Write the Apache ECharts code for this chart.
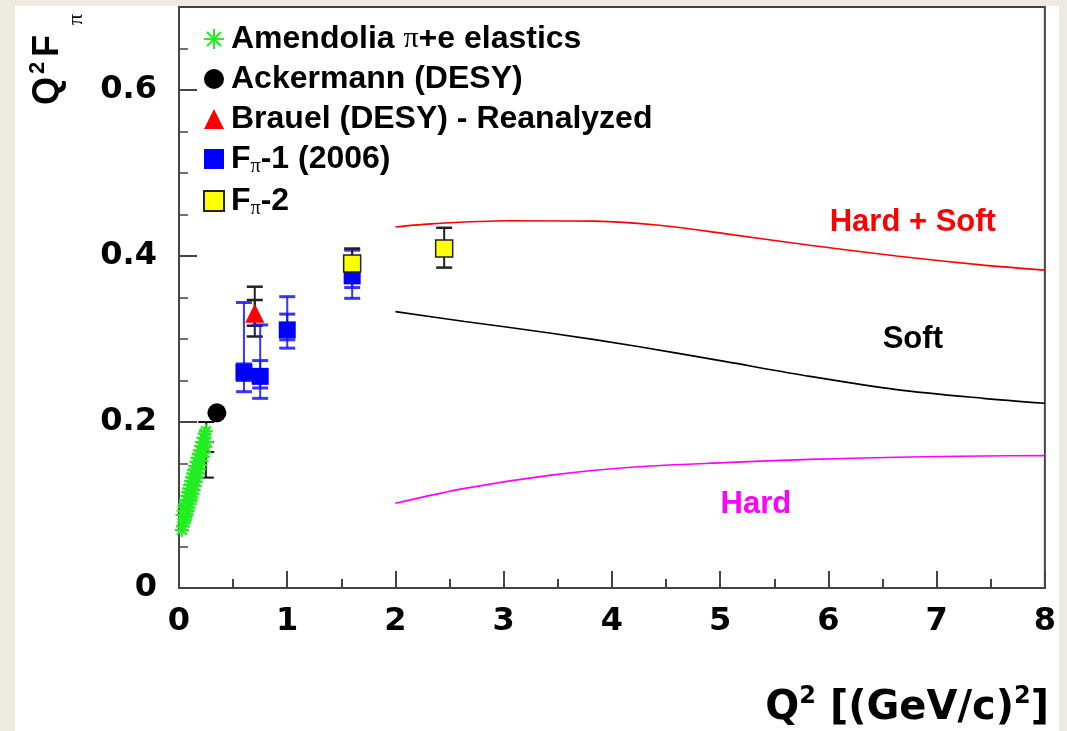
<!DOCTYPE html>
<html><head><meta charset="utf-8">
<script src="https://cdn.jsdelivr.net/npm/echarts@6/dist/echarts.min.js"></script>
<style>
html,body{margin:0;padding:0;background:#edeae1;width:1067px;height:731px;overflow:hidden}
#c{position:absolute;left:15px;top:6px;width:1044px;height:725px;background:#fff}
</style></head><body><div id="c"></div>
<script>
// ---- data ----
const amendoliaQ2 = [0.026,0.032,0.036,0.041,0.045,0.049,0.053,0.058,0.062,0.066,0.071,0.075,0.080,0.084,0.089,0.093,0.098,0.102,0.107,0.112,0.116,0.121,0.126,0.131,0.135,0.140,0.145,0.150,0.155,0.160,0.165,0.170,0.176,0.181,0.186,0.192,0.197,0.203,0.208,0.214,0.219,0.225,0.231,0.236,0.242,0.248,0.253];
const amendoliaVal = [0.070,0.088,0.074,0.093,0.079,0.098,0.082,0.101,0.086,0.106,0.089,0.111,0.093,0.115,0.097,0.120,0.101,0.124,0.106,0.129,0.109,0.133,0.114,0.138,0.118,0.142,0.123,0.147,0.128,0.152,0.133,0.157,0.138,0.161,0.143,0.166,0.148,0.171,0.153,0.176,0.158,0.181,0.163,0.186,0.170,0.189,0.176];
const amendoliaErrQ2 = [0.248, 0.252];
const amendoliaErrLo = [0.133, 0.164];
const amendoliaErrHi = [0.176, 0.200];

const ackermannQ2 = [0.35];
const ackermannVal = [0.211];

const brauelQ2 = [0.70];
const brauelVal = [0.331];
const brauelStatLo = [0.316];
const brauelStatHi = [0.347];
const brauelSysLo = [0.303];
const brauelSysHi = [0.363];

const fpi1Q2 = [0.60, 0.75, 1.00, 1.60];
const fpi1Val = [0.260, 0.255, 0.311, 0.376];
const fpi1StatLo = [0.250, 0.241, 0.299, 0.362];
const fpi1StatHi = [0.270, 0.274, 0.330, 0.390];
const fpi1SysLo = [0.2365, 0.2285, 0.289, 0.349];
const fpi1SysHi = [0.344, 0.317, 0.351, 0.407];

const fpi2Q2 = [1.60, 2.45];
const fpi2Val = [0.391, 0.409];
const fpi2Lo = [0.376, 0.386];
const fpi2Hi = [0.409, 0.434];

const hardSoftQ2 = [2.0, 2.36, 3.04, 3.84, 4.44, 5.04, 5.83, 6.63, 7.43, 8.0];
const hardSoftVal = [0.435, 0.439, 0.4425, 0.442, 0.437, 0.427, 0.413, 0.400, 0.389, 0.383];
const softQ2 = [2.0, 2.64, 3.44, 4.24, 5.04, 5.83, 6.63, 7.43, 8.0];
const softVal = [0.333, 0.321, 0.307, 0.291, 0.273, 0.255, 0.239, 0.2285, 0.2225];
const hardQ2 = [2.0, 2.64, 3.44, 4.24, 5.04, 5.83, 6.63, 7.43, 8.0];
const hardVal = [0.102, 0.120, 0.136, 0.146, 0.151, 0.155, 0.1575, 0.159, 0.1595];

const xTicks = [0, 1, 2, 3, 4, 5, 6, 7, 8];
const yTickLabels = ['0', '0.2', '0.4', '0.6'];

const legendNames = ['Amendolia π+e elastics', 'Ackermann (DESY)', 'Brauel (DESY) - Reanalyzed', 'Fπ-1 (2006)', 'Fπ-2'];

// ---- helpers ----
const FONT = "'Liberation Sans', Arial, Helvetica, sans-serif";
const WIDE = "'DejaVu Sans', 'Liberation Sans', sans-serif";
const pairs = (xs, ys) => xs.map((x, i) => [x, ys[i]]);
const triples = (xs, lo, hi) => xs.map((x, i) => [x, lo[i], hi[i]]);

function errSeries(name, data, color, lw, capHalf, capW) {
  return {
    type: 'custom', name: name, data: data, z: 3,
    encode: { x: 0, y: [1, 2] },
    renderItem: function (params, api) {
      const x = api.value(0), lo = api.value(1), hi = api.value(2);
      const a = api.coord([x, lo]), b = api.coord([x, hi]);
      const st = { stroke: color, lineWidth: lw };
      const cs = { stroke: color, lineWidth: capW };
      return { type: 'group', children: [
        { type: 'line', shape: { x1: a[0], y1: a[1], x2: b[0], y2: b[1] }, style: st },
        { type: 'line', shape: { x1: a[0] - capHalf, y1: a[1], x2: a[0] + capHalf, y2: a[1] }, style: cs },
        { type: 'line', shape: { x1: b[0] - capHalf, y1: b[1], x2: b[0] + capHalf, y2: b[1] }, style: cs }
      ] };
    }
  };
}

const starPath = 'path://M10,0L10,20M0,10L20,10M3,3L17,17M3,17L17,3';

const chart = echarts.init(document.getElementById('c'), null, { renderer: 'canvas' });

const legendRich = {
  n: { fontFamily: FONT, fontWeight: 'bold', fontSize: 32, lineHeight: 36, color: '#000' },
  p: { fontFamily: "'Liberation Serif', serif", fontSize: 30, lineHeight: 36, color: '#000' },
  s: { fontFamily: "'Liberation Serif', serif", fontSize: 20, lineHeight: 20, verticalAlign: 'bottom', color: '#000' }
};
function legendFmt(name) {
  if (name === legendNames[0]) return '{n|Amendolia }{p|π}{n|+e elastics}';
  if (name === legendNames[3]) return '{n|F}{s|π}{n|-1 (2006)}';
  if (name === legendNames[4]) return '{n|F}{s|π}{n|-2}';
  return '{n|' + name + '}';
}

const labelStyle = { fontFamily: WIDE, fontWeight: 'bold', color: '#000' };
const capStyle = (size, txt) => ({ text: txt, fontFamily: FONT, fontWeight: 'bold', fontSize: size, fill: '#000', verticalAlign: 'bottom' });

const option = {
  animation: false,
  backgroundColor: '#fff',
  grid: { left: 164, right: 8, top: 1, bottom: 143, show: true, borderColor: '#444', borderWidth: 2, backgroundColor: 'transparent' },
  xAxis: {
    type: 'value', min: xTicks[0], max: xTicks[xTicks.length - 1], interval: 1,
    axisLine: { show: true, onZero: false, lineStyle: { color: '#444', width: 2 } },
    axisTick: { show: true, inside: true, length: 17, lineStyle: { color: '#444', width: 2 } },
    minorTick: { show: true, splitNumber: 2, length: 9, lineStyle: { color: '#444', width: 2 } },
    splitLine: { show: false },
    axisLabel: Object.assign({ fontSize: 32, margin: 18 }, labelStyle)
  },
  yAxis: {
    type: 'value', min: 0, max: 0.7, interval: 0.2,
    axisLine: { show: true, onZero: false, lineStyle: { color: '#444', width: 2 } },
    axisTick: { show: true, inside: true, length: 18, lineStyle: { color: '#444', width: 2 } },
    minorTick: { show: true, splitNumber: 4, length: 9, lineStyle: { color: '#444', width: 1.5 } },
    splitLine: { show: false },
    axisLabel: Object.assign({ fontSize: 32, margin: 22, showMaxLabel: false,
      formatter: function (v) { const i = Math.round(v / 0.2); return (Math.abs(v - i * 0.2) < 1e-9 && yTickLabels[i] !== undefined) ? yTickLabels[i] : ''; } }, labelStyle)
  },
  legend: {
    data: legendNames, orient: 'vertical', left: 188, top: 17, padding: 0,
    itemWidth: 20, itemHeight: 20, itemGap: 8, selectedMode: false,
    formatter: legendFmt, textStyle: { rich: legendRich, padding: [0, 0, 0, 2] }
  },
  graphic: [
    { type: 'text', right: 10, bottom: 2,
      style: { text: '{b|Q}{u|2}{b| [(GeV/c)}{u|2}{b|]}', rich: {
        b: { fontFamily: WIDE, fontWeight: 'bold', fontSize: 40, lineHeight: 48, fill: '#000' },
        u: { fontFamily: WIDE, fontWeight: 'bold', fontSize: 24, lineHeight: 26, verticalAlign: 'top', fill: '#000' } } } },
    { type: 'group', x: 44, y: 99, rotation: Math.PI / 2, children: [
      { type: 'text', x: 0, y: 7, style: capStyle(36, 'Q') },
      { type: 'text', x: 31, y: -10, style: capStyle(22, '2') },
      { type: 'text', x: 48, y: 7, style: capStyle(36, 'F') },
      { type: 'text', x: 80, y: 28, style: { text: 'π', fontFamily: "'Liberation Serif', serif", fontSize: 22, fill: '#000', verticalAlign: 'bottom' } }
    ] }
  ],
  series: [
    errSeries('amendoliaErr', triples(amendoliaErrQ2, amendoliaErrLo, amendoliaErrHi), '#111', 2, 8, 2),
    { type: 'scatter', name: legendNames[0], data: pairs(amendoliaQ2, amendoliaVal), z: 4,
      symbol: starPath, symbolSize: 14,
      itemStyle: { color: 'rgba(0,0,0,0)', borderColor: '#22ee22', borderWidth: 2, opacity: 1 } },
    { type: 'scatter', name: legendNames[1], data: pairs(ackermannQ2, ackermannVal), z: 4,
      symbol: 'circle', symbolSize: 19, itemStyle: { color: '#000', opacity: 1 } },
    errSeries('brauelSys', triples(brauelQ2, brauelSysLo, brauelSysHi), '#222', 2, 8, 2.5),
    errSeries('brauelStat', triples(brauelQ2, brauelStatLo, brauelStatHi), '#222', 2, 8, 2.5),
    { type: 'scatter', name: legendNames[2], data: pairs(brauelQ2, brauelVal), z: 4,
      symbol: 'triangle', symbolSize: 19, itemStyle: { color: '#ff0000', opacity: 1 } },
    errSeries('fpi1Sys', triples(fpi1Q2, fpi1SysLo, fpi1SysHi), 'rgba(20,20,255,0.85)', 2, 8, 3),
    errSeries('fpi1Stat', triples(fpi1Q2, fpi1StatLo, fpi1StatHi), 'rgba(20,20,255,0.85)', 2, 8, 3),
    { type: 'scatter', name: legendNames[3], data: pairs(fpi1Q2, fpi1Val), z: 4,
      symbol: 'rect', symbolSize: 17, itemStyle: { color: '#0000ff', opacity: 1 } },
    errSeries('fpi2Err', triples(fpi2Q2, fpi2Lo, fpi2Hi), '#222', 2, 8, 2.5),
    { type: 'scatter', name: legendNames[4], data: pairs(fpi2Q2, fpi2Val), z: 5,
      symbol: 'rect', symbolSize: 17, itemStyle: { color: '#ffff00', borderColor: '#222', borderWidth: 1.5, opacity: 1 } },
    { type: 'line', name: 'Hard + Soft', data: pairs(hardSoftQ2, hardSoftVal), smooth: 0.3, showSymbol: false, symbol: 'none',
      lineStyle: { color: '#ff0000', width: 1.6 },
      markPoint: { symbol: 'circle', symbolSize: 1, itemStyle: { color: 'rgba(0,0,0,0)' },
        label: { show: true, position: 'inside', formatter: 'Hard + Soft', fontFamily: FONT, fontWeight: 'bold', fontSize: 31, color: '#ff0000' },
        data: [{ coord: [6.78, 0.44] }] } },
    { type: 'line', name: 'Soft', data: pairs(softQ2, softVal), smooth: 0.3, showSymbol: false, symbol: 'none',
      lineStyle: { color: '#000', width: 1.6 },
      markPoint: { symbol: 'circle', symbolSize: 1, itemStyle: { color: 'rgba(0,0,0,0)' },
        label: { show: true, position: 'inside', formatter: 'Soft', fontFamily: FONT, fontWeight: 'bold', fontSize: 31, color: '#000' },
        data: [{ coord: [6.78, 0.299] }] } },
    { type: 'line', name: 'Hard', data: pairs(hardQ2, hardVal), smooth: 0.3, showSymbol: false, symbol: 'none',
      lineStyle: { color: '#ff00ff', width: 1.6 },
      markPoint: { symbol: 'circle', symbolSize: 1, itemStyle: { color: 'rgba(0,0,0,0)' },
        label: { show: true, position: 'inside', formatter: 'Hard', fontFamily: FONT, fontWeight: 'bold', fontSize: 31, color: '#ff00ff' },
        data: [{ coord: [5.33, 0.101] }] } }
  ]
};
chart.setOption(option);
</script></body></html>
